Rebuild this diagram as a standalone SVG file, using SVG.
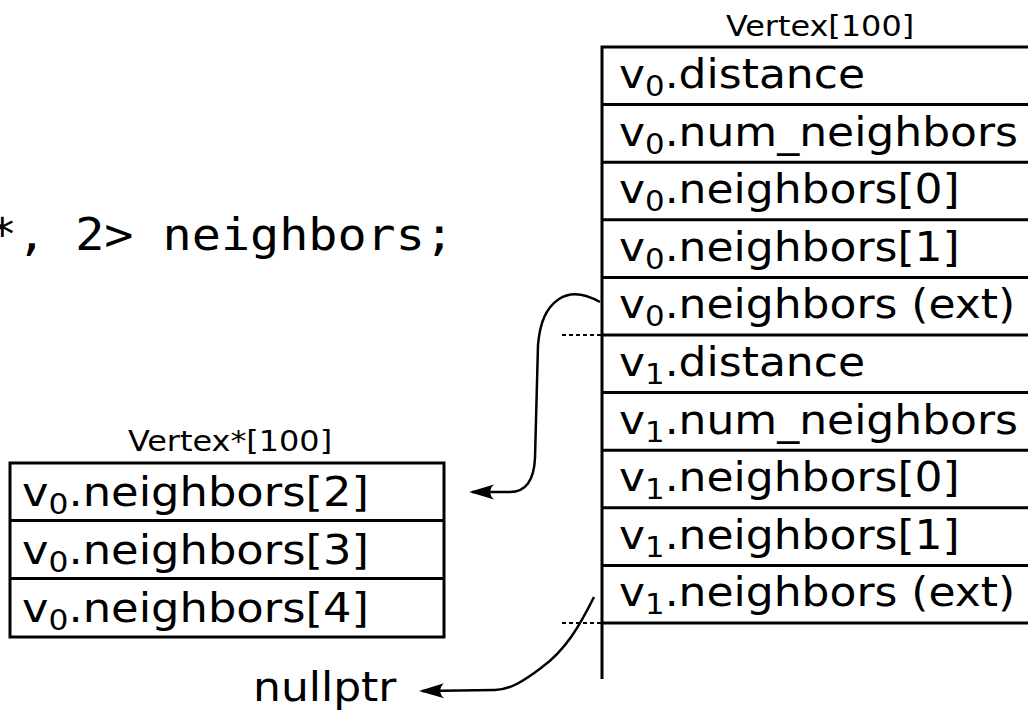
<svg xmlns="http://www.w3.org/2000/svg" width="1028" height="710" viewBox="0 0 1028 710">
<defs>
<style>
.t{font-family:"DejaVu Sans","Verdana",sans-serif;font-size:40px;fill:#000}
.lbl{font-family:"DejaVu Sans","Verdana",sans-serif;font-size:29px;fill:#000;text-anchor:middle}
.mono{font-family:"DejaVu Sans Mono","Liberation Mono",monospace;font-size:44px;fill:#000;text-anchor:end}
.sub{font-size:28px}
.box{fill:none;stroke:#000;stroke-width:3}
.ln{stroke:#000;stroke-width:3;fill:none}
.dash{stroke:#000;stroke-width:2;stroke-dasharray:4 3;fill:none}
.conn{stroke:#000;stroke-width:2.5;fill:none;marker-end:url(#arr)}
</style>
<marker id="arr" markerUnits="userSpaceOnUse" markerWidth="30" markerHeight="20" refX="-3" refY="0" orient="auto" overflow="visible">
<path d="M0,0 L-25,-7.5 C-20,-3 -20,3 -25,7.5 Z" fill="#000"/>
</marker>
</defs>
<rect width="1028" height="710" fill="#fff"/>

<text class="mono" transform="translate(454,250) scale(1.1,1)">*, 2&gt; neighbors;</text>

<g id="vertex-array">
<text class="lbl" transform="translate(820,36) scale(1.1,1)">Vertex[100]</text>
<path class="ln" d="M602 47 H1030 M602 104.6 H1030 M602 162.2 H1030 M602 219.8 H1030 M602 277.4 H1030 M602 335 H1030 M602 392.6 H1030 M602 450.2 H1030 M602 507.8 H1030 M602 565.4 H1030 M602 623 H1030 M602 45.5 V679"/>
<text class="t" transform="translate(619,88) scale(1.1,1)">v<tspan class="sub" dy="8">0</tspan><tspan dy="-8">.distance</tspan></text>
<text class="t" transform="translate(619,145.6) scale(1.1,1)">v<tspan class="sub" dy="8">0</tspan><tspan dy="-8">.num_neighbors</tspan></text>
<text class="t" transform="translate(619,203.2) scale(1.1,1)">v<tspan class="sub" dy="8">0</tspan><tspan dy="-8">.neighbors[0]</tspan></text>
<text class="t" transform="translate(619,260.8) scale(1.1,1)">v<tspan class="sub" dy="8">0</tspan><tspan dy="-8">.neighbors[1]</tspan></text>
<text class="t" transform="translate(619,318.4) scale(1.1,1)">v<tspan class="sub" dy="8">0</tspan><tspan dy="-8">.neighbors (ext)</tspan></text>
<text class="t" transform="translate(619,376) scale(1.1,1)">v<tspan class="sub" dy="8">1</tspan><tspan dy="-8">.distance</tspan></text>
<text class="t" transform="translate(619,433.6) scale(1.1,1)">v<tspan class="sub" dy="8">1</tspan><tspan dy="-8">.num_neighbors</tspan></text>
<text class="t" transform="translate(619,491.2) scale(1.1,1)">v<tspan class="sub" dy="8">1</tspan><tspan dy="-8">.neighbors[0]</tspan></text>
<text class="t" transform="translate(619,548.8) scale(1.1,1)">v<tspan class="sub" dy="8">1</tspan><tspan dy="-8">.neighbors[1]</tspan></text>
<text class="t" transform="translate(619,606.4) scale(1.1,1)">v<tspan class="sub" dy="8">1</tspan><tspan dy="-8">.neighbors (ext)</tspan></text>
</g>

<g id="ext-array">
<text class="lbl" transform="translate(230,451) scale(1.1,1)">Vertex*[100]</text>
<rect class="box" x="10" y="463" width="434" height="174"/>
<path class="ln" d="M10 520.5 H444 M10 578.5 H444"/>
<text class="t" transform="translate(22,506) scale(1.12,1)">v<tspan class="sub" dy="8">0</tspan><tspan dy="-8">.neighbors[2]</tspan></text>
<text class="t" transform="translate(22,564) scale(1.12,1)">v<tspan class="sub" dy="8">0</tspan><tspan dy="-8">.neighbors[3]</tspan></text>
<text class="t" transform="translate(22,622) scale(1.12,1)">v<tspan class="sub" dy="8">0</tspan><tspan dy="-8">.neighbors[4]</tspan></text>
</g>

<g id="nullptr">
<text class="t" transform="translate(253,701) scale(1.1,1)">nullptr</text>
</g>

<g id="connectors">
<path class="dash" d="M562 335 H601 M562 623 H601"/>
<path class="conn" d="M600 302 C 586 294, 571 291, 559 299 C 546 308, 540 322, 538 345 L 535 458 C 534 480, 526 492, 510 492 L 472 492"/>
<path class="conn" d="M594 597 C 580 625, 566 650, 541 668 C 525 680, 510 690, 495 690 L 422 691"/>
</g>
</svg>
